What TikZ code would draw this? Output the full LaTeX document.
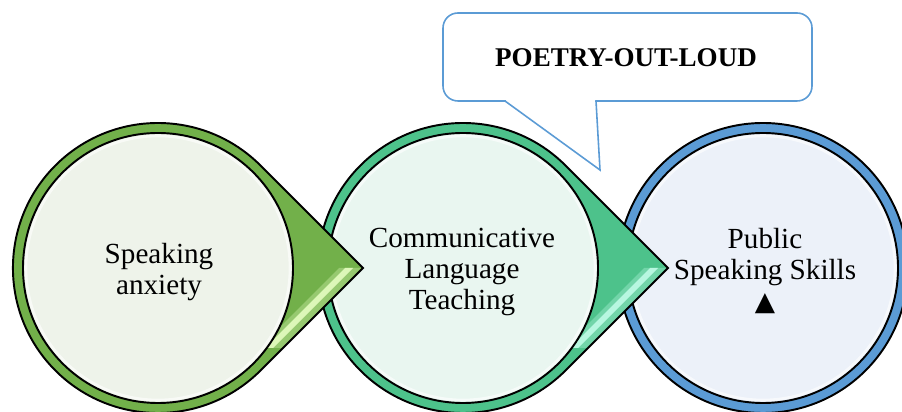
\documentclass[tikz,border=0pt]{standalone}
\usepackage{fontspec}
\setmainfont{Liberation Serif}
\newfontfamily\symfont{DejaVu Sans}
\usetikzlibrary{positioning}

\definecolor{ringA}{HTML}{72B04A}
\definecolor{ringB}{HTML}{4DC28B}
\definecolor{ringC}{HTML}{5B9BD5}
\definecolor{innerA}{HTML}{EEF3EA}
\definecolor{innerB}{HTML}{E9F6F0}
\definecolor{innerC}{HTML}{ECF1F9}
\definecolor{glowA}{HTML}{DDF7B8}
\definecolor{glowB}{HTML}{B8F7E0}

% one stage: #1 centre x, #2 ring colour, #3 inner colour, #4 highlight
\newcommand{\stagedrop}[4]{
  \fill[#2] (#1+205,144) -- ++(135:145) arc[start angle=45,end angle=315,radius=145] -- cycle;
  % bevel on the lower edge of the point
  \begin{scope}
    \clip (#1+205,144) -- ++(135:145) arc[start angle=45,end angle=315,radius=145] -- cycle;
    \fill[#4!35!#2] (#1+203,144) -- (#1+181,144) -- ++(-80,-80) -- ++(25,0) -- cycle;
    \fill[#4] (#1+195,144) -- (#1+187,144) -- ++(-80,-80) -- ++(8,0) -- cycle;
  \end{scope}
  \draw[outline] (#1+205,144) -- ++(135:145) arc[start angle=45,end angle=315,radius=145] -- cycle;
  \filldraw[outline,fill=#3] (#1,144) circle[radius=135];
  \draw[white,opacity=.6,line width=1.5pt] (#1,144) circle[radius=132];
}

\begin{document}
\begin{tikzpicture}[
    x=0.02cm, y=0.02cm,
    outline/.style={draw=black, line width=1.1pt},
    stagetext/.style={
      align=center,
      font=\fontsize{16.6}{17.6}\selectfont,
      inner sep=0pt
    },
    callout/.style={
      draw=ringC,
      line width=0.9pt
    }
  ]
  \useasboundingbox (0,0) rectangle (902,412);

  % last stage, plain ring
  \fill[ringC] (763,144) circle[radius=145];
  \draw[outline] (763,144) circle[radius=145];
  \filldraw[outline,fill=innerC] (763,144) circle[radius=135];
  \draw[white,opacity=.6,line width=1.5pt] (763,144) circle[radius=132];

  \stagedrop{463}{ringB}{innerB}{glowB}
  \stagedrop{158}{ringA}{innerA}{glowA}

  \node[stagetext] (anxiety) at (159,140) {Speaking\\anxiety};
  \node[stagetext] (clt) at (462,140) {Communicative\\Language\\Teaching};
  \node[stagetext] (skills) at (765,141) {Public\\Speaking Skills\\{\symfont\fontsize{15}{17.6}\selectfont ▲}};

  % speech bubble
  \draw[callout, fill=white, rounded corners=8.5pt] (443,311) rectangle (812,399);
  \fill[white] (506,310) -- (600,242) -- (595,310) -- (595,312.5) -- (506,312.5) -- cycle;
  \draw[callout, line join=miter] (505,311) -- (600,242) -- (596,311);
  \node[font=\bfseries\fontsize{15.4}{18}\selectfont, inner sep=0pt] (poetry) at (626,354) {POETRY-OUT-LOUD};
\end{tikzpicture}
\end{document}
